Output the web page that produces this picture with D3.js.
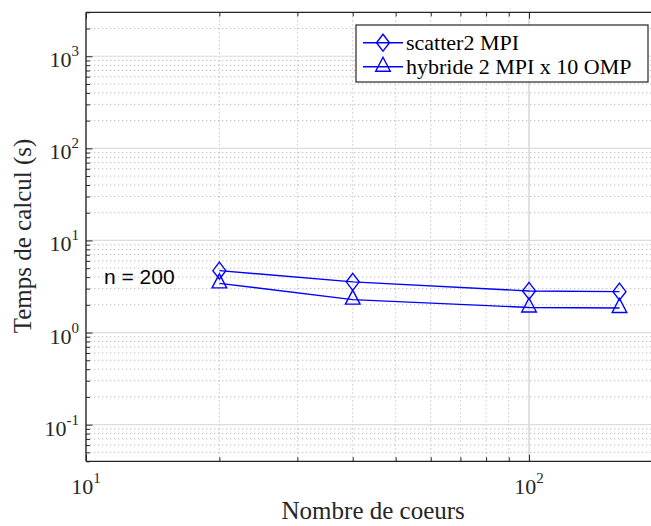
<!DOCTYPE html>
<html><head><meta charset="utf-8">
<script src="https://cdn.jsdelivr.net/npm/d3@7"></script>
<style>body{margin:0;background:#fff;overflow:hidden}</style>
</head><body>
<script>
// ---- data ----
const cores = [20, 40, 100, 160];
const scatter2MPI = [4.7, 3.55, 2.83, 2.78];
const hybride = [3.42, 2.28, 1.87, 1.85];
const seriesNames = ["scatter2 MPI", "hybride 2 MPI x 10 OMP"];
const xMajorTicks = [10, 100];
const xTickLabels = [["10","1"],["10","2"]];
const yMajorTicks = [0.1, 1, 10, 100, 1000];
const yTickLabels = [["10","-1"],["10","0"],["10","1"],["10","2"],["10","3"]];
const annotation = "n = 200";

// ---- layout ----
const W = 651, H = 526;
const L = 86, R = 662.4, T = 12.3, B = 461.3;
const serif = "'Liberation Serif','Times New Roman',serif";
const blue = "#0000ff";

const svg = d3.select("body").append("svg").attr("width", W).attr("height", H);

const x = d3.scaleLog().domain([10, 200]).range([L, R]);
const y = d3.scaleLog().domain([0.04, 3000]).range([B, T]);

// minor tick values
const xMinor = [];
for (let d = 10; d < 200; d *= 10) for (let k = 2; k <= 9; k++) if (k * d <= 200) xMinor.push(k * d);
const yMinor = [];
for (let d = 0.01; d < 3000; d *= 10) for (let k = 2; k <= 9; k++) { const v = +(k * d).toPrecision(3); if (v >= 0.04 && v <= 3000) yMinor.push(v); }

const grid = svg.append("g");
// minor grid (dotted)
grid.selectAll(".xm").data(xMinor).join("line")
  .attr("x1", d => x(d)).attr("x2", d => x(d)).attr("y1", T).attr("y2", B)
  .attr("stroke", "#bdbdbd").attr("stroke-width", 1).attr("stroke-dasharray", "1.3,2.7");
grid.selectAll(".ym").data(yMinor).join("line")
  .attr("x1", L).attr("x2", R).attr("y1", d => y(d)).attr("y2", d => y(d))
  .attr("stroke", "#bdbdbd").attr("stroke-width", 1).attr("stroke-dasharray", "1.3,2.7");
// major grid (solid light)
grid.selectAll(".xM").data(xMajorTicks).join("line")
  .attr("x1", d => x(d)).attr("x2", d => x(d)).attr("y1", T).attr("y2", B)
  .attr("stroke", "#d6d6d6").attr("stroke-width", 1.5);
grid.selectAll(".yM").data(yMajorTicks).join("line")
  .attr("x1", L).attr("x2", R).attr("y1", d => y(d)).attr("y2", d => y(d))
  .attr("stroke", "#dcdcdc").attr("stroke-width", 1.2);

// axes with inward ticks
const axCol = "#262626";
function styleAxis(g) {
  g.select(".domain").remove();
  g.selectAll("line").attr("stroke", axCol).attr("stroke-width", 1);
  g.selectAll("text").remove();
}
svg.append("g").attr("transform", `translate(0,${B})`)
  .call(d3.axisBottom(x).tickValues(xMajorTicks).tickSize(-6.5).tickFormat("")).call(styleAxis);
svg.append("g").attr("transform", `translate(0,${B})`)
  .call(d3.axisBottom(x).tickValues(xMinor).tickSize(-4).tickFormat("")).call(styleAxis);
svg.append("g").attr("transform", `translate(0,${T})`)
  .call(d3.axisTop(x).tickValues(xMajorTicks).tickSize(-6.5).tickFormat("")).call(styleAxis);
svg.append("g").attr("transform", `translate(0,${T})`)
  .call(d3.axisTop(x).tickValues(xMinor).tickSize(-4).tickFormat("")).call(styleAxis);
svg.append("g").attr("transform", `translate(${L},0)`)
  .call(d3.axisLeft(y).tickValues(yMajorTicks).tickSize(-6.5).tickFormat("")).call(styleAxis);
svg.append("g").attr("transform", `translate(${L},0)`)
  .call(d3.axisLeft(y).tickValues(yMinor).tickSize(-4).tickFormat("")).call(styleAxis);

// frame
svg.append("line").attr("x1", L).attr("x2", R).attr("y1", B).attr("y2", B).attr("stroke", axCol).attr("stroke-width", 1.3);
svg.append("line").attr("x1", L).attr("x2", R).attr("y1", T).attr("y2", T).attr("stroke", axCol).attr("stroke-width", 1.3);
svg.append("line").attr("x1", L).attr("x2", L).attr("y1", T).attr("y2", B).attr("stroke", axCol).attr("stroke-width", 1.3);

// tick labels
const xl = svg.append("g").attr("font-family", serif).attr("fill", "#262626");
xMajorTicks.forEach((v, i) => {
  const t = xl.append("text").attr("x", x(v)).attr("y", B + 33).attr("text-anchor", "middle").attr("font-size", 22);
  t.append("tspan").text(xTickLabels[i][0]);
  t.append("tspan").attr("dy", -11).attr("font-size", 15).text(xTickLabels[i][1]);
});
yMajorTicks.forEach((v, i) => {
  const t = xl.append("text").attr("x", L - 7).attr("y", y(v) + 11).attr("text-anchor", "end").attr("font-size", 22);
  t.append("tspan").text(yTickLabels[i][0]);
  t.append("tspan").attr("dy", -11).attr("font-size", 15).text(yTickLabels[i][1]);
});

// axis titles
svg.append("text").attr("x", (L + R) / 2 - 1).attr("y", 519).attr("text-anchor", "middle")
  .attr("font-family", serif).attr("font-size", 25).attr("fill", "#262626").text("Nombre de coeurs");
svg.append("text").attr("transform", "rotate(-90)").attr("x", -236).attr("y", 31).attr("text-anchor", "middle")
  .attr("font-family", serif).attr("font-size", 25).attr("fill", "#262626").text("Temps de calcul (s)");

// markers
function diamond(cx, cy) { const w = 6.5, h = 8.5; return `M${cx},${cy-h}L${cx+w},${cy}L${cx},${cy+h}L${cx-w},${cy}Z`; }
function triangle(cx, cy) { const w = 7.3; return `M${cx},${cy-9.5}L${cx+w},${cy+4.5}L${cx-w},${cy+4.5}Z`; }

const series = [
  { name: seriesNames[0], values: scatter2MPI, marker: diamond },
  { name: seriesNames[1], values: hybride, marker: triangle }
];
const line = d3.line().x(d => x(d[0])).y(d => y(d[1]));
const plot = svg.append("g");
series.forEach(s => {
  const pts = cores.map((c, i) => [c, s.values[i]]);
  plot.append("path").attr("d", line(pts)).attr("fill", "none").attr("stroke", blue).attr("stroke-width", 1.4);
  plot.selectAll(null).data(pts).join("path")
    .attr("d", d => s.marker(x(d[0]), y(d[1])))
    .attr("fill", "none").attr("stroke", blue).attr("stroke-width", 1.4);
});

// annotation
svg.append("text").attr("x", 104).attr("y", 284).attr("font-family", "'Liberation Sans',Arial,sans-serif")
  .attr("font-size", 21).attr("fill", "#000").text(annotation);

// legend
const lg = svg.append("g");
lg.append("rect").attr("x", 356).attr("y", 25).attr("width", 292).attr("height", 57)
  .attr("fill", "#fff").attr("stroke", axCol).attr("stroke-width", 1.2);
series.forEach((s, i) => {
  const cy = 42.7 + i * 24;
  lg.append("line").attr("x1", 363).attr("x2", 403).attr("y1", cy).attr("y2", cy).attr("stroke", blue).attr("stroke-width", 1.4);
  lg.append("path").attr("d", s.marker(383, cy)).attr("fill", "none").attr("stroke", blue).attr("stroke-width", 1.4);
  lg.append("text").attr("x", 406).attr("y", cy + 7).attr("font-family", serif).attr("font-size", 22)
    .attr("fill", "#000").text(s.name);
});
</script>
</body></html>
